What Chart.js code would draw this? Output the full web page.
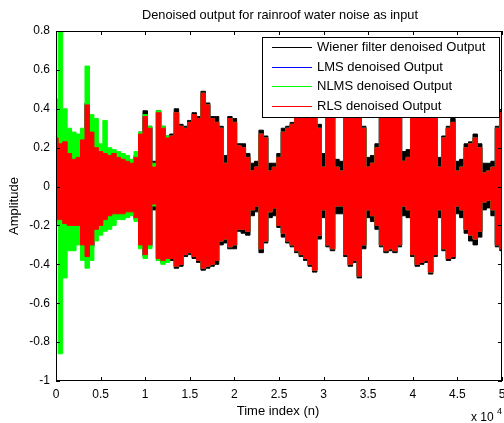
<!DOCTYPE html>
<html>
<head>
<meta charset="utf-8">
<script src="https://cdn.jsdelivr.net/npm/chart.js@4.4.1/dist/chart.umd.min.js"></script>
<style>
  html, body { margin: 0; padding: 0; background: #fff; }
  #wrap { width: 504px; height: 423px; }
</style>
</head>
<body>
<div id="wrap"><canvas id="myChart" width="504" height="423"></canvas></div>
<script>
// sample index, one envelope reading every 500 samples
const sampleIdx = Array.from({ length: 101 }, (_, i) => i * 500);

// Wiener filter output envelope (upper / lower)
const wienerHigh = [0.26,0.23,0.24,0.18,0.15,0.16,0.25,0.43,0.29,0.21,0.19,0.18,0.17,0.18,0.16,0.15,0.14,0.13,0.16,0.28,
  0.39,0.31,0.13,0.39,0.31,0.26,0.27,0.40,0.32,0.31,0.34,0.38,0.36,0.49,0.43,0.36,0.36,0.31,0.16,0.36,
  0.35,0.22,0.22,0.17,0.12,0.13,0.29,0.26,0.12,0.12,0.17,0.30,0.31,0.33,0.37,0.43,0.45,0.46,0.43,0.32,
  0.17,0.39,0.41,0.14,0.13,0.39,0.46,0.46,0.43,0.31,0.15,0.16,0.22,0.39,0.43,0.43,0.41,0.39,0.18,0.19,
  0.41,0.46,0.46,0.45,0.43,0.39,0.15,0.26,0.31,0.35,0.13,0.14,0.22,0.23,0.27,0.22,0.12,0.12,0.13,0.31,0.39];
const wienerLow = [-0.18,-0.18,-0.20,-0.21,-0.21,-0.21,-0.31,-0.37,-0.31,-0.23,-0.21,-0.18,-0.16,-0.15,-0.15,-0.15,-0.14,-0.14,-0.17,-0.31,
  -0.36,-0.31,-0.12,-0.38,-0.39,-0.38,-0.38,-0.42,-0.41,-0.36,-0.35,-0.37,-0.39,-0.43,-0.42,-0.41,-0.40,-0.30,-0.29,-0.32,
  -0.32,-0.23,-0.24,-0.25,-0.15,-0.13,-0.34,-0.29,-0.16,-0.15,-0.21,-0.26,-0.29,-0.31,-0.34,-0.36,-0.38,-0.41,-0.44,-0.27,
  -0.16,-0.31,-0.33,-0.14,-0.14,-0.36,-0.41,-0.39,-0.47,-0.32,-0.16,-0.18,-0.22,-0.31,-0.34,-0.33,-0.34,-0.31,-0.15,-0.16,
  -0.36,-0.41,-0.40,-0.39,-0.45,-0.36,-0.16,-0.33,-0.38,-0.37,-0.14,-0.16,-0.24,-0.28,-0.30,-0.26,-0.12,-0.11,-0.15,-0.31,-0.33];

// LMS output envelope (hidden under the others)
const lmsHigh = [0.25,0.22,0.23,0.17,0.14,0.15,0.24,0.42,0.28,0.20,0.18,0.17,0.16,0.17,0.15,0.14,0.13,0.12,0.15,0.27,
  0.36,0.30,0.10,0.38,0.30,0.25,0.26,0.38,0.31,0.30,0.33,0.37,0.35,0.48,0.42,0.35,0.33,0.30,0.12,0.35,
  0.33,0.21,0.20,0.15,0.08,0.10,0.27,0.25,0.08,0.10,0.15,0.28,0.30,0.32,0.36,0.42,0.44,0.45,0.42,0.30,
  0.10,0.38,0.40,0.10,0.08,0.38,0.45,0.45,0.42,0.30,0.10,0.12,0.20,0.38,0.42,0.42,0.40,0.38,0.13,0.15,
  0.40,0.45,0.45,0.44,0.42,0.38,0.10,0.25,0.30,0.33,0.08,0.10,0.20,0.22,0.25,0.20,0.07,0.08,0.10,0.30,0.38];
const lmsLow = [-0.17,-0.17,-0.19,-0.20,-0.20,-0.20,-0.30,-0.36,-0.30,-0.22,-0.20,-0.17,-0.15,-0.14,-0.14,-0.14,-0.13,-0.13,-0.16,-0.30,
  -0.35,-0.30,-0.09,-0.37,-0.38,-0.37,-0.37,-0.41,-0.40,-0.35,-0.34,-0.36,-0.38,-0.42,-0.41,-0.40,-0.38,-0.28,-0.27,-0.31,
  -0.30,-0.22,-0.22,-0.23,-0.12,-0.10,-0.32,-0.28,-0.13,-0.11,-0.20,-0.24,-0.28,-0.30,-0.33,-0.35,-0.37,-0.40,-0.43,-0.25,
  -0.12,-0.30,-0.32,-0.10,-0.10,-0.35,-0.40,-0.38,-0.46,-0.30,-0.12,-0.15,-0.20,-0.30,-0.33,-0.32,-0.33,-0.30,-0.10,-0.12,
  -0.35,-0.40,-0.39,-0.38,-0.44,-0.35,-0.12,-0.32,-0.37,-0.36,-0.10,-0.12,-0.22,-0.25,-0.27,-0.23,-0.08,-0.07,-0.12,-0.30,-0.32];

// NLMS output envelope (large start-up transient)
const nlmsHigh = [0.45,0.80,0.40,0.30,0.28,0.27,0.30,0.62,0.37,0.35,0.22,0.34,0.20,0.19,0.18,0.17,0.16,0.14,0.18,0.28,
  0.37,0.31,0.12,0.39,0.31,0.26,0.26,0.38,0.31,0.30,0.33,0.37,0.35,0.48,0.42,0.35,0.33,0.30,0.12,0.35,
  0.33,0.21,0.20,0.15,0.08,0.10,0.27,0.25,0.08,0.10,0.15,0.28,0.30,0.32,0.36,0.42,0.44,0.45,0.42,0.30,
  0.10,0.38,0.40,0.10,0.08,0.38,0.45,0.45,0.42,0.30,0.10,0.12,0.20,0.38,0.42,0.42,0.40,0.38,0.13,0.15,
  0.40,0.45,0.45,0.44,0.42,0.38,0.10,0.25,0.30,0.33,0.08,0.10,0.20,0.22,0.25,0.20,0.07,0.08,0.10,0.30,0.38];
const nlmsLow = [-0.20,-0.86,-0.47,-0.33,-0.33,-0.30,-0.38,-0.42,-0.38,-0.28,-0.25,-0.23,-0.22,-0.20,-0.17,-0.17,-0.16,-0.15,-0.18,-0.32,
  -0.37,-0.32,-0.10,-0.38,-0.40,-0.39,-0.37,-0.41,-0.40,-0.35,-0.34,-0.36,-0.38,-0.42,-0.41,-0.40,-0.38,-0.28,-0.27,-0.31,
  -0.30,-0.22,-0.22,-0.23,-0.12,-0.10,-0.32,-0.28,-0.13,-0.11,-0.20,-0.24,-0.28,-0.30,-0.33,-0.35,-0.37,-0.40,-0.43,-0.25,
  -0.12,-0.30,-0.32,-0.10,-0.10,-0.35,-0.40,-0.38,-0.46,-0.30,-0.12,-0.15,-0.20,-0.30,-0.33,-0.32,-0.33,-0.30,-0.10,-0.12,
  -0.35,-0.40,-0.39,-0.38,-0.44,-0.35,-0.12,-0.32,-0.37,-0.36,-0.10,-0.12,-0.22,-0.25,-0.27,-0.23,-0.08,-0.07,-0.12,-0.30,-0.32];

// RLS output envelope (drawn on top)
const rlsHigh = [0.25,0.22,0.23,0.17,0.14,0.15,0.24,0.42,0.28,0.20,0.18,0.17,0.16,0.17,0.15,0.14,0.13,0.12,0.15,0.27,
  0.36,0.30,0.10,0.38,0.30,0.25,0.26,0.38,0.31,0.30,0.33,0.37,0.35,0.48,0.42,0.35,0.33,0.30,0.12,0.35,
  0.33,0.21,0.20,0.15,0.08,0.10,0.27,0.25,0.08,0.10,0.15,0.28,0.30,0.32,0.36,0.42,0.44,0.45,0.42,0.30,
  0.10,0.38,0.40,0.10,0.08,0.38,0.45,0.45,0.42,0.30,0.10,0.12,0.20,0.38,0.42,0.42,0.40,0.38,0.13,0.15,
  0.40,0.45,0.45,0.44,0.42,0.38,0.10,0.25,0.30,0.33,0.08,0.10,0.20,0.22,0.25,0.20,0.07,0.08,0.10,0.30,0.38];
const rlsLow = [-0.17,-0.17,-0.19,-0.20,-0.20,-0.20,-0.30,-0.36,-0.30,-0.22,-0.20,-0.17,-0.15,-0.14,-0.14,-0.14,-0.13,-0.13,-0.16,-0.30,
  -0.35,-0.30,-0.09,-0.37,-0.38,-0.37,-0.37,-0.41,-0.40,-0.35,-0.34,-0.36,-0.38,-0.42,-0.41,-0.40,-0.38,-0.28,-0.27,-0.31,
  -0.30,-0.22,-0.22,-0.23,-0.12,-0.10,-0.32,-0.28,-0.13,-0.11,-0.20,-0.24,-0.28,-0.30,-0.33,-0.35,-0.37,-0.40,-0.43,-0.25,
  -0.12,-0.30,-0.32,-0.10,-0.10,-0.35,-0.40,-0.38,-0.46,-0.30,-0.12,-0.15,-0.20,-0.30,-0.33,-0.32,-0.33,-0.30,-0.10,-0.12,
  -0.35,-0.40,-0.39,-0.38,-0.44,-0.35,-0.12,-0.32,-0.37,-0.36,-0.10,-0.12,-0.22,-0.25,-0.27,-0.23,-0.08,-0.07,-0.12,-0.30,-0.32];

const seriesNames = ['Wiener filter denoised Output', 'LMS denoised Output', 'NLMS denoised Output', 'RLS denoised Output'];
const seriesColors = ['#000000', '#0000ff', '#00ff00', '#ff0000'];

const xTickVals = [0, 5000, 10000, 15000, 20000, 25000, 30000, 35000, 40000, 45000, 50000];
const xTickLabels = ['0', '0.5', '1', '1.5', '2', '2.5', '3', '3.5', '4', '4.5', '5'];
const yTickVals = [-1, -0.8, -0.6, -0.4, -0.2, 0, 0.2, 0.4, 0.6, 0.8];
const yTickLabels = ['-1', '-0.8', '-0.6', '-0.4', '-0.2', '0', '0.2', '0.4', '0.6', '0.8'];

const FONT = '"Liberation Sans", Arial, sans-serif';

function pts(arr) {
  return sampleIdx.map((n, i) => ({ x: n, y: arr[i] }));
}

// each output is a band: upper line filled down to the lower line
const bands = [[wienerHigh, wienerLow], [lmsHigh, lmsLow], [nlmsHigh, nlmsLow], [rlsHigh, rlsLow]];
const datasets = [];
bands.forEach(function (b, s) {
  const base = {
    borderColor: seriesColors[s],
    backgroundColor: seriesColors[s],
    borderWidth: 1,
    pointRadius: 0,
    stepped: 'middle',
    order: 4 - s
  };
  datasets.push(Object.assign({ label: seriesNames[s], data: pts(b[0]), fill: '+1' }, base));
  datasets.push(Object.assign({ label: seriesNames[s] + ' low', data: pts(b[1]), fill: false }, base));
});

// matlab style frame, inward ticks, texts and legend
const matlabFrame = {
  id: 'matlabFrame',
  afterDraw(chart) {
    const ctx = chart.ctx;
    const a = chart.chartArea;
    const xs = chart.scales.x, ys = chart.scales.y;
    ctx.save();
    ctx.strokeStyle = '#000';
    ctx.lineWidth = 1;
    ctx.beginPath();
    xTickVals.forEach(v => {
      const px = Math.round(xs.getPixelForValue(v)) + 0.5;
      ctx.moveTo(px, a.bottom); ctx.lineTo(px, a.bottom - 4);
      ctx.moveTo(px, a.top); ctx.lineTo(px, a.top + 4);
    });
    yTickVals.forEach(v => {
      const py = Math.round(ys.getPixelForValue(v)) + 0.5;
      ctx.moveTo(a.left, py); ctx.lineTo(a.left + 4, py);
      ctx.moveTo(a.right, py); ctx.lineTo(a.right - 4, py);
    });
    ctx.stroke();
    ctx.strokeRect(Math.round(a.left) + 0.5, Math.round(a.top) + 0.5,
      Math.round(a.right - a.left) - 1, Math.round(a.bottom - a.top) - 1);

    // texts
    ctx.fillStyle = '#000';
    ctx.font = '12.8px ' + FONT;
    ctx.textAlign = 'center';
    ctx.textBaseline = 'middle';
    ctx.fillText('Denoised output for rainroof water noise as input', 280, 15);
    ctx.font = '13px ' + FONT;
    ctx.fillText('Time index (n)', 278, 411);
    ctx.save();
    ctx.translate(14, 206);
    ctx.rotate(-Math.PI / 2);
    ctx.fillText('Amplitude', 0, 0);
    ctx.restore();
    ctx.textAlign = 'left';
    ctx.font = '12px ' + FONT;
    ctx.fillText('x 10', 471, 418);
    ctx.font = '9px ' + FONT;
    ctx.fillText('4', 497, 412);

    // legend
    const lx = 262, ly = 37, lw = 237, lh = 80;
    ctx.fillStyle = '#fff';
    ctx.fillRect(lx, ly, lw, lh);
    ctx.strokeStyle = '#000';
    ctx.strokeRect(lx + 0.5, ly + 0.5, lw, lh);
    ctx.font = '13px ' + FONT;
    ctx.textBaseline = 'middle';
    seriesNames.forEach((name, i) => {
      const y = Math.round(ly + 10 + i * 19.7) + 0.5;
      ctx.strokeStyle = seriesColors[i];
      ctx.beginPath();
      ctx.moveTo(272, y); ctx.lineTo(312, y);
      ctx.stroke();
      ctx.fillStyle = '#000';
      ctx.fillText(name, 317, y);
    });
    ctx.restore();
  }
};

const ctx = document.getElementById('myChart').getContext('2d');
new Chart(ctx, {
  type: 'line',
  data: { datasets: datasets },
  options: {
    responsive: false,
    animation: false,
    events: [],
    layout: { padding: { top: 31, right: 2, left: 0, bottom: 0 } },
    plugins: {
      legend: { display: false },
      tooltip: { enabled: false },
      title: { display: false },
      filler: { propagate: false }
    },
    scales: {
      x: {
        type: 'linear',
        min: 0,
        max: 50000,
        grid: { display: false, drawTicks: false, tickLength: 0 },
        border: { display: false },
        afterBuildTicks: s => { s.ticks = xTickVals.map(v => ({ value: v })); },
        afterFit: s => { s.height = 42; s.paddingLeft = 0; s.paddingRight = 0; },
        ticks: {
          color: '#000',
          font: { family: FONT, size: 12 },
          padding: 6,
          maxRotation: 0,
          autoSkip: false,
          callback: (v, i) => xTickLabels[i]
        }
      },
      y: {
        min: -1,
        max: 0.8,
        grid: { display: false, drawTicks: false, tickLength: 0 },
        border: { display: false },
        afterBuildTicks: s => { s.ticks = yTickVals.map(v => ({ value: v })); },
        afterFit: s => { s.width = 56; s.paddingTop = 0; s.paddingBottom = 0; },
        ticks: {
          color: '#000',
          font: { family: FONT, size: 12 },
          padding: 6,
          autoSkip: false,
          callback: (v, i) => yTickLabels[i]
        }
      }
    }
  },
  plugins: [matlabFrame]
});
</script>
</body>
</html>
